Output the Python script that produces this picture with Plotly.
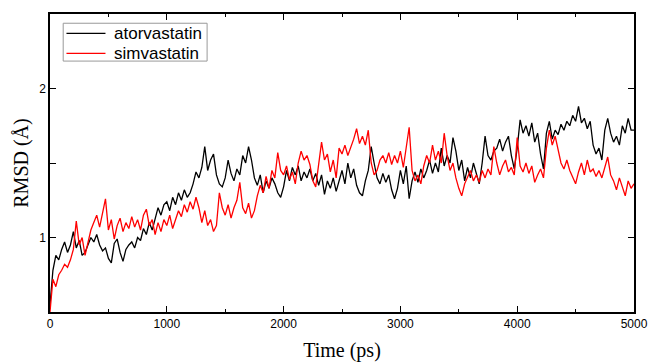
import plotly.graph_objects as go

# time step 25 ps, 0..5000
time_ps = [i * 25 for i in range(201)]

atorvastatin = [
    0.55, 0.78, 0.88, 0.85,
    0.92, 0.97, 0.90, 0.95,
    1.04, 0.93, 0.98, 0.88,
    0.90, 0.95, 1.00, 0.97,
    1.02, 0.95, 0.91, 0.93,
    0.86, 0.83, 0.96, 0.99,
    0.90, 0.84, 0.92, 0.95,
    0.97, 0.93, 1.00, 0.98,
    1.06, 1.02, 1.10, 1.05,
    1.12, 1.20, 1.15, 1.22,
    1.24, 1.18, 1.27, 1.22,
    1.30, 1.25, 1.32, 1.27,
    1.30, 1.36, 1.44, 1.40,
    1.47, 1.61, 1.45, 1.52,
    1.56, 1.42, 1.36, 1.34,
    1.40, 1.52, 1.43, 1.38,
    1.46, 1.42, 1.55, 1.50,
    1.61, 1.52, 1.40, 1.35,
    1.42, 1.30, 1.38, 1.33,
    1.40, 1.36, 1.30, 1.27,
    1.34, 1.45, 1.38, 1.47,
    1.42, 1.48, 1.38, 1.44,
    1.40, 1.46, 1.38, 1.43,
    1.35, 1.42, 1.29, 1.38,
    1.33, 1.40, 1.31, 1.38,
    1.45, 1.36, 1.50, 1.40,
    1.46, 1.35, 1.30, 1.28,
    1.38, 1.45, 1.61, 1.50,
    1.40, 1.36, 1.43, 1.37,
    1.42, 1.32, 1.26, 1.33,
    1.45, 1.36, 1.48, 1.26,
    1.38, 1.44, 1.37, 1.46,
    1.40, 1.45, 1.52, 1.43,
    1.50, 1.44, 1.60, 1.48,
    1.55, 1.50, 1.67, 1.58,
    1.45, 1.52, 1.38, 1.47,
    1.40, 1.50, 1.42, 1.36,
    1.50, 1.68, 1.55, 1.52,
    1.58, 1.60, 1.66, 1.58,
    1.64, 1.68, 1.55, 1.46,
    1.60, 1.79, 1.70, 1.75,
    1.68, 1.77, 1.64, 1.70,
    1.56, 1.46, 1.70, 1.78,
    1.66, 1.72, 1.69, 1.76,
    1.72, 1.78, 1.75, 1.82,
    1.78, 1.88, 1.77, 1.80,
    1.73, 1.78, 1.62, 1.56,
    1.60, 1.52, 1.72, 1.80,
    1.70, 1.64, 1.68, 1.62,
    1.75, 1.70, 1.80, 1.72,
    1.72,
]

simvastatin = [
    0.50, 0.72, 0.67, 0.75,
    0.78, 0.82, 0.80, 0.85,
    0.92, 1.11, 0.95, 1.00,
    0.88, 0.97, 1.05, 1.10,
    1.15, 1.07, 1.17, 1.26,
    1.05, 1.12, 0.99, 1.08,
    1.13, 1.04, 1.10, 1.06,
    1.14, 1.07, 1.12, 1.05,
    1.15, 1.19, 1.08, 1.12,
    1.02, 1.10, 1.04, 1.12,
    1.08, 1.15, 1.06, 1.12,
    1.18, 1.14, 1.22, 1.17,
    1.24, 1.19, 1.27, 1.20,
    1.10, 1.18, 1.08, 1.12,
    1.04, 1.08, 1.30, 1.20,
    1.15, 1.22, 1.13, 1.20,
    1.25, 1.37, 1.20, 1.16,
    1.23, 1.13, 1.18, 1.28,
    1.35, 1.30, 1.41, 1.33,
    1.45, 1.40, 1.57, 1.45,
    1.42, 1.48, 1.39, 1.44,
    1.36, 1.50, 1.58, 1.52,
    1.55, 1.49, 1.38, 1.34,
    1.50, 1.64, 1.52, 1.56,
    1.44, 1.52, 1.40, 1.60,
    1.56, 1.62, 1.55, 1.60,
    1.66, 1.73, 1.63, 1.68,
    1.62, 1.72, 1.50, 1.42,
    1.45, 1.52, 1.55, 1.50,
    1.57, 1.49, 1.55, 1.50,
    1.58, 1.47, 1.62, 1.74,
    1.45, 1.38, 1.42, 1.36,
    1.48, 1.55, 1.50, 1.62,
    1.52, 1.58, 1.50, 1.70,
    1.55, 1.45, 1.50, 1.40,
    1.33, 1.28, 1.36, 1.40,
    1.45, 1.38, 1.42, 1.37,
    1.45, 1.40, 1.46, 1.42,
    1.61, 1.50, 1.42, 1.48,
    1.52, 1.44, 1.47, 1.42,
    1.67, 1.48, 1.44, 1.50,
    1.43, 1.48, 1.37, 1.42,
    1.46, 1.40, 1.60, 1.72,
    1.62, 1.68, 1.58, 1.50,
    1.46, 1.52, 1.45, 1.40,
    1.36, 1.44, 1.50, 1.42,
    1.52, 1.44, 1.46, 1.41,
    1.45, 1.40, 1.48, 1.54,
    1.42, 1.38, 1.32, 1.40,
    1.34, 1.28, 1.38, 1.33,
    1.36,
]

series_names = ["atorvastatin", "simvastatin"]
series_colors = ["black", "#ff0000"]

x_ticks = [0, 1000, 2000, 3000, 4000, 5000]
y_ticks = [1, 1.5, 2]
y_tick_text = ["1", "", "2"]

fig = go.Figure()
for name, vals, col in zip(series_names, [atorvastatin, simvastatin], series_colors):
    fig.add_trace(go.Scatter(x=time_ps, y=vals, mode="lines", name=name,
                             line=dict(color=col, width=1.3)))

tickfont = dict(family="Arial, Liberation Sans, sans-serif", size=12, color="black")
titlefont = dict(family="Times New Roman, Liberation Serif, serif", size=20, color="black")
legfont = dict(family="Arial, Liberation Sans, sans-serif", size=17, color="black")

# legend drawn in paper coordinates (box, sample lines, labels)
shapes = [dict(type="rect", xref="paper", yref="paper", x0=0.0226, x1=0.269, y0=0.842, y1=0.969,
               line=dict(color="#999999", width=1), fillcolor="white", layer="above")]
annotations = []
for i, (name, col) in enumerate(zip(series_names, series_colors)):
    yy = 0.935 - i * 0.067
    shapes.append(dict(type="line", xref="paper", yref="paper", x0=0.0282, x1=0.095, y0=yy, y1=yy,
                       line=dict(color=col, width=1.3), layer="above"))
    annotations.append(dict(text=name, xref="paper", yref="paper", x=0.1064, y=yy,
                            xanchor="left", yanchor="middle", showarrow=False, font=legfont))

fig.update_layout(
    width=649, height=362,
    margin=dict(l=49.5, r=15, t=14, b=50, autoexpand=False),
    paper_bgcolor="white", plot_bgcolor="white",
    showlegend=False,
    shapes=shapes, annotations=annotations,
    xaxis=dict(range=[0, 5000], tickvals=x_ticks, ticks="inside", ticklen=6,
               tickcolor="black", tickwidth=1, showline=True, linecolor="black",
               linewidth=1.5, mirror="ticks", showgrid=False, zeroline=False,
               automargin=False, tickfont=tickfont,
               minor=dict(dtick=500, tick0=0, ticks="inside", ticklen=3, tickcolor="black", showgrid=False),
               title=dict(text="Time (ps)", font=titlefont, standoff=15)),
    yaxis=dict(range=[0.5, 2.5], tickvals=y_ticks, ticktext=y_tick_text, ticks="inside",
               ticklen=6, tickcolor="black", tickwidth=1, showline=True, linecolor="black",
               linewidth=1.5, mirror="ticks", showgrid=False, zeroline=False,
               automargin=False, tickfont=tickfont,
               title=dict(text="RMSD (Å)", font=titlefont, standoff=5)),
)

fig.write_html("out.html", config={"displayModeBar": False},
               post_script="document.body.style.margin='0';document.body.style.overflow='hidden';")
